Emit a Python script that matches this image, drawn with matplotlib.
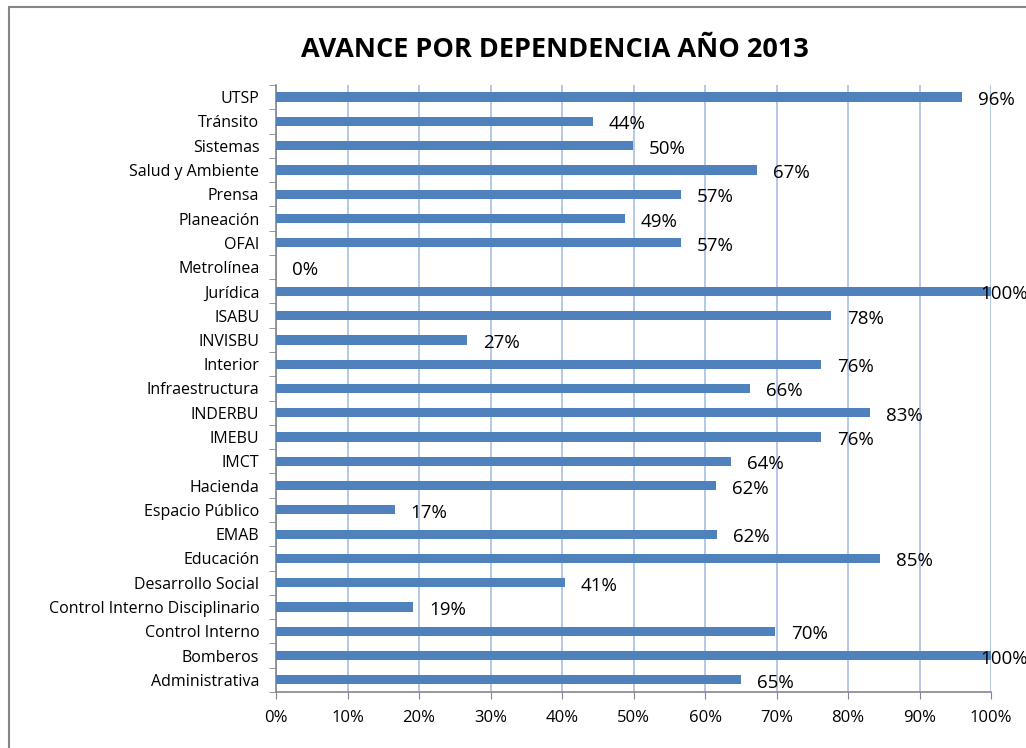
import numpy as np
import matplotlib.pyplot as plt
from matplotlib.patches import Rectangle

# Datos (de abajo hacia arriba)
dependencias = ["Administrativa", "Bomberos", "Control Interno",
                "Control Interno Disciplinario", "Desarrollo Social", "Educación",
                "EMAB", "Espacio Público", "Hacienda", "IMCT", "IMEBU", "INDERBU",
                "Infraestructura", "Interior", "INVISBU", "ISABU", "Jurídica",
                "Metrolínea", "OFAI", "Planeación", "Prensa", "Salud y Ambiente",
                "Sistemas", "Tránsito", "UTSP"]
avance = [0.650, 1.000, 0.698, 0.192, 0.404, 0.845, 0.617, 0.166, 0.615, 0.636,
          0.762, 0.831, 0.663, 0.762, 0.267, 0.776, 1.000, 0.0, 0.566, 0.488,
          0.566, 0.673, 0.499, 0.443, 0.959]
etiquetas = ["65%", "100%", "70%", "19%", "41%", "85%", "62%", "17%", "62%", "64%",
             "76%", "83%", "66%", "76%", "27%", "78%", "100%", "0%", "57%", "49%",
             "57%", "67%", "50%", "44%", "96%"]

plt.rcParams['font.family'] = ['Open Sans', 'DejaVu Sans']

fig = plt.figure(figsize=(10.26, 7.48), dpi=100)
ax = fig.add_axes([0.269, 0.0749, 0.697, 0.8115])

y = np.arange(len(dependencias))
ax.barh(y, avance, height=0.38, color='#4F81BD', zorder=3)

for yi, v, t in zip(y, avance, etiquetas):
    # las etiquetas del 100% quedan montadas sobre el final de la barra
    dx = -11 if v >= 1 else 16
    ax.annotate(t, (v, yi), xytext=(dx, -3), textcoords='offset pixels',
                ha='left', va='center', fontsize=13.5, color='black', zorder=4)

ax.set_xlim(0, 1)
ax.set_ylim(-0.5, len(dependencias) - 0.5)
ax.set_xticks(np.arange(0, 1.01, 0.1))
ax.set_xticklabels([f"{int(round(v * 100))}%" for v in np.arange(0, 1.01, 0.1)], fontsize=12)
ax.set_yticks(y)
ax.set_yticklabels(dependencias, fontsize=11.5)
ax.set_yticks(np.arange(-0.5, len(dependencias)), minor=True)
ax.tick_params(axis='y', which='major', length=0, pad=12)
ax.tick_params(axis='y', which='minor', length=5, color='#868686', direction='out')
ax.tick_params(axis='x', length=5, color='#868686', pad=8)
ax.grid(axis='x', color='#AFC4E6', linewidth=1.3, zorder=0)

for s in ['top', 'right']:
    ax.spines[s].set_visible(False)
for s in ['left', 'bottom']:
    ax.spines[s].set_color('#868686')
    ax.spines[s].set_linewidth(1.2)

fig.text(0.541, 0.933, "AVANCE POR DEPENDENCIA AÑO 2013", ha='center', va='center',
         fontsize=19.5, fontweight='bold')

fig.patches.append(Rectangle((9 / 1026, -0.1), 1.2, 1.1 - 7 / 748,
                             transform=fig.transFigure, fill=False,
                             edgecolor='#868686', linewidth=1.5))

fig.savefig('out.png', dpi=100)
